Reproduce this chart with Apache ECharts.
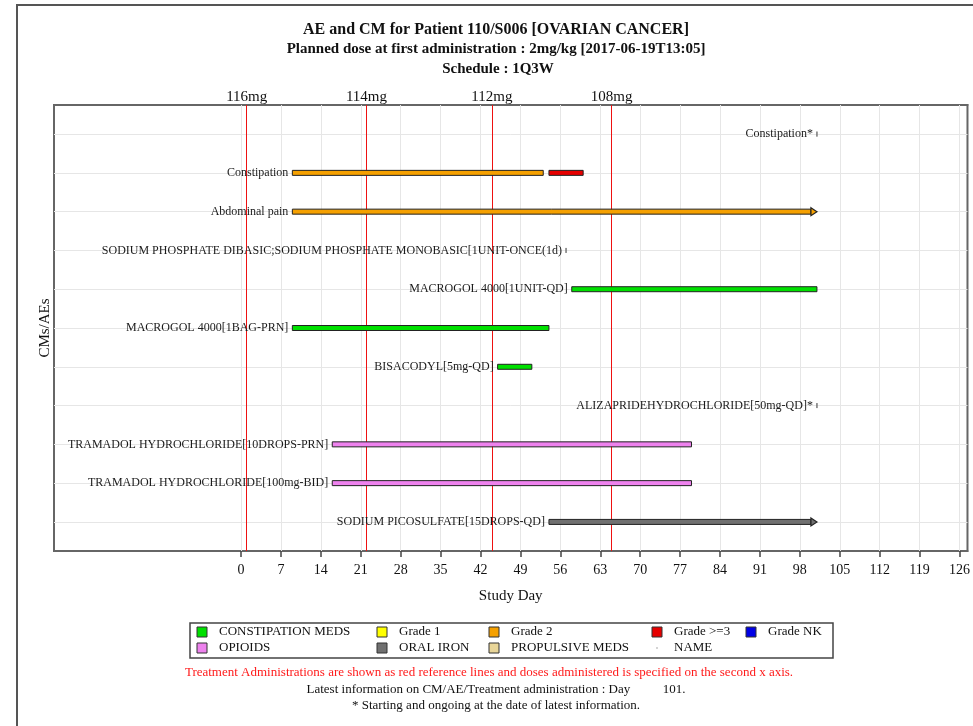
<!DOCTYPE html>
<html>
<head>
<meta charset="utf-8">
<script src="https://cdn.jsdelivr.net/npm/echarts@6/dist/echarts.min.js"></script>
<style>
html,body{margin:0;padding:0;background:#fff;}
#chart{width:973px;height:726px;}
</style>
</head>
<body>
<div id="chart"></div>
<script>
// ---------- data ----------
const rowLabels = [
  'Constipation*',
  'Constipation',
  'Abdominal pain',
  'SODIUM PHOSPHATE DIBASIC;SODIUM PHOSPHATE MONOBASIC[1UNIT-ONCE(1d)',
  'MACROGOL 4000[1UNIT-QD]',
  'MACROGOL 4000[1BAG-PRN]',
  'BISACODYL[5mg-QD]',
  'ALIZAPRIDEHYDROCHLORIDE[50mg-QD]*',
  'TRAMADOL HYDROCHLORIDE[10DROPS-PRN]',
  'TRAMADOL HYDROCHLORIDE[100mg-BID]',
  'SODIUM PICOSULFATE[15DROPS-QD]'
];
// one entry per bar segment
const segRow   = [1, 2, 2, 3, 4, 5, 6, 7, 8, 9, 10, 11];
const segStart = [101, 9, 54, 9, 57, 58, 9, 45, 101, 16, 16, 54];
const segEnd   = [101, 53, 60, 101, 57, 101, 54, 51, 101, 79, 79, 101];
const segGroup = ['Grade 2', 'Grade 2', 'Grade >=3', 'Grade 2', 'PROPULSIVE MEDS',
                  'CONSTIPATION MEDS', 'CONSTIPATION MEDS', 'CONSTIPATION MEDS',
                  'PROPULSIVE MEDS', 'OPIOIDS', 'OPIOIDS', 'ORAL IRON'];
const segArrow = [0, 0, 0, 1, 0, 0, 0, 0, 0, 0, 0, 1];
const segLabel = [1, 1, 0, 1, 1, 1, 1, 1, 1, 1, 1, 1]; // 1 = carries the row label

const dayTicks = [0, 7, 14, 21, 28, 35, 42, 49, 56, 63, 70, 77, 84, 91, 98, 105, 112, 119, 126];
const doseDays = [1, 22, 44, 65];
const doseLabels = ['116mg', '114mg', '112mg', '108mg'];
const rowValues = [1, 2, 3, 4, 5, 6, 7, 8, 9, 10, 11];

const legendNames  = ['CONSTIPATION MEDS', 'Grade 1', 'Grade 2', 'Grade >=3', 'Grade NK',
                      'OPIOIDS', 'ORAL IRON', 'PROPULSIVE MEDS', 'NAME'];
const legendColors = ['#00E000', '#FFFF00', '#F5A000', '#E60000', '#0000E6',
                      '#EE82EE', '#707070', '#E8D598', null];

const latestDay = 101;
const X_MIN = -32.8, X_MAX = 127.4;
const Y_MIN = 0.25, Y_MAX = 11.75;

// ---------- chart ----------
const FONT = '"Liberation Serif", "Times New Roman", serif';
const chart = echarts.init(document.getElementById('chart'), null, {renderer: 'canvas'});

const segData = segRow.map((r, i) => [segStart[i], segEnd[i], r, segArrow[i],
  legendNames.indexOf(segGroup[i]), segLabel[i] ? r - 1 : -1]);

function renderItem(params, api) {
  const s = api.coord([api.value(0), api.value(2)]);
  const e = api.coord([api.value(1), api.value(2)]);
  const h = 5;
  const color = legendColors[api.value(4)];
  const x1 = s[0];
  const x2 = Math.max(e[0], x1);
  const y = s[1];
  const children = [];
  if (api.value(3)) {
    const bodyEnd = x2 - 6;
    children.push({type: 'rect', shape: {x: x1, y: y - h / 2, width: bodyEnd - x1, height: h},
      style: {fill: color, stroke: '#222', lineWidth: 1}});
    children.push({type: 'polygon', shape: {points: [[bodyEnd, y - 4], [x2, y], [bodyEnd, y + 4]]},
      style: {fill: color, stroke: '#222', lineWidth: 1.2}});
  } else {
    children.push({type: 'rect', shape: {x: x1, y: y - h / 2, width: x2 - x1, height: h},
      style: {fill: color, stroke: x2 - x1 < 1 ? '#777' : '#222', lineWidth: 1}});
  }
  const li = api.value(5);
  if (li >= 0) {
    children.push({type: 'text', x: x1 - 4, y: y,
      style: {text: rowLabels[li], align: 'right', verticalAlign: 'middle',
        font: '12px ' + FONT, fill: '#1a1a1a'}});
  }
  return {type: 'group', children};
}

// legend graphic
const legendCols = [202, 382, 494, 657, 751];
const legendRowsY = [632, 648];
const legendGraphics = [{
  type: 'rect', shape: {x: 190, y: 623, width: 643, height: 35},
  style: {fill: '#fff', stroke: '#444', lineWidth: 1.5}
}];
legendNames.forEach((n, i) => {
  const cx = legendCols[i % 5], cy = legendRowsY[Math.floor(i / 5)];
  if (legendColors[i]) {
    legendGraphics.push({type: 'rect', shape: {x: cx - 5, y: cy - 5, width: 10, height: 10},
      style: {fill: legendColors[i], stroke: '#333', lineWidth: 1}});
  } else {
    legendGraphics.push({type: 'rect', shape: {x: cx - 0.5, y: cy - 0.5, width: 1, height: 1},
      style: {fill: '#555'}});
  }
  legendGraphics.push({type: 'text', x: cx + 17, y: cy,
    style: {text: n, align: 'left', verticalAlign: 'middle', font: '13px ' + FONT, fill: '#111'}});
});

const textG = (txt, x, y, font, color) => ({type: 'text', x, y,
  style: {text: txt, align: 'center', verticalAlign: 'middle', font, fill: color || '#111'}});

const option = {
  animation: false,
  backgroundColor: '#fff',
  textStyle: {fontFamily: FONT},
  grid: {left: 54, top: 105, right: 5, bottom: 175, show: true, borderColor: '#666', borderWidth: 2,
         backgroundColor: 'transparent'},
  xAxis: [{
    type: 'value', position: 'bottom', min: X_MIN, max: X_MAX,
    axisLine: {show: true, onZero: false, lineStyle: {color: '#666', width: 2}},
    axisTick: {show: true, customValues: dayTicks, length: 6, lineStyle: {color: '#444', width: 1.5}},
    axisLabel: {customValues: dayTicks, fontFamily: FONT, fontSize: 14, color: '#111', margin: 12},
    splitLine: {show: false},
    name: 'Study Day', nameLocation: 'middle', nameGap: 38,
    nameTextStyle: {fontFamily: FONT, fontSize: 15, color: '#111'}
  }, {
    type: 'value', position: 'top', min: X_MIN, max: X_MAX,
    axisLine: {show: true, onZero: false, lineStyle: {color: '#666', width: 2}},
    axisTick: {show: false},
    axisLabel: {customValues: doseDays, formatter: v => doseLabels[doseDays.indexOf(v)] || '',
      fontFamily: FONT, fontSize: 15, color: '#111', margin: 0},
    splitLine: {show: false}
  }],
  yAxis: {
    type: 'value', inverse: true, min: Y_MIN, max: Y_MAX,
    axisLine: {show: true, onZero: false, lineStyle: {color: '#666', width: 2}},
    axisTick: {show: false}, axisLabel: {show: false}, splitLine: {show: false},
    name: 'CMs/AEs', nameLocation: 'middle', nameGap: 1, nameRotate: 90,
    nameTextStyle: {fontFamily: FONT, fontSize: 15, color: '#111'}
  },
  series: [{
    type: 'line', data: [], silent: true, z: 1,
    markLine: {
      silent: true, symbol: ['none', 'none'], label: {show: false}, animation: false,
      lineStyle: {color: '#e6e6e6', width: 1, type: 'solid'},
      emphasis: {disabled: true},
      data: dayTicks.map(d => ({xAxis: d})).concat(rowValues.map(r => ({yAxis: r})))
    }
  }, {
    type: 'line', data: [], silent: true, z: 2,
    markLine: {
      silent: true, symbol: ['none', 'none'], label: {show: false}, animation: false,
      lineStyle: {color: '#ee1111', width: 1, type: 'solid'},
      emphasis: {disabled: true},
      data: doseDays.map(d => ({xAxis: d}))
    }
  }, {
    type: 'custom', renderItem, data: segData, z: 5, clip: false,
    encode: {x: [0, 1], y: 2}
  }],
  graphic: [
    {type: 'rect', shape: {x: 17, y: 5, width: 980, height: 740},
      style: {fill: 'none', stroke: '#555', lineWidth: 2}, silent: true},
    textG('AE and CM for Patient 110/S006 [OVARIAN CANCER]', 496, 30, 'bold 16px ' + FONT),
    textG('Planned dose at first administration : 2mg/kg [2017-06-19T13:05]', 496, 49, 'bold 15px ' + FONT),
    textG('Schedule : 1Q3W', 498, 69, 'bold 15px ' + FONT),
    textG('Treatment Administrations are shown as red reference lines and doses administered is specified on the second x axis.', 489, 673, '13px ' + FONT, '#ff1a1a'),
    textG('Latest information on CM/AE/Treatment administration : Day          ' + latestDay + '.', 496, 690, '13px ' + FONT),
    textG('* Starting and ongoing at the date of latest information.', 496, 706, '13px ' + FONT)
  ].concat(legendGraphics)
};
chart.setOption(option);
</script>
</body>
</html>
